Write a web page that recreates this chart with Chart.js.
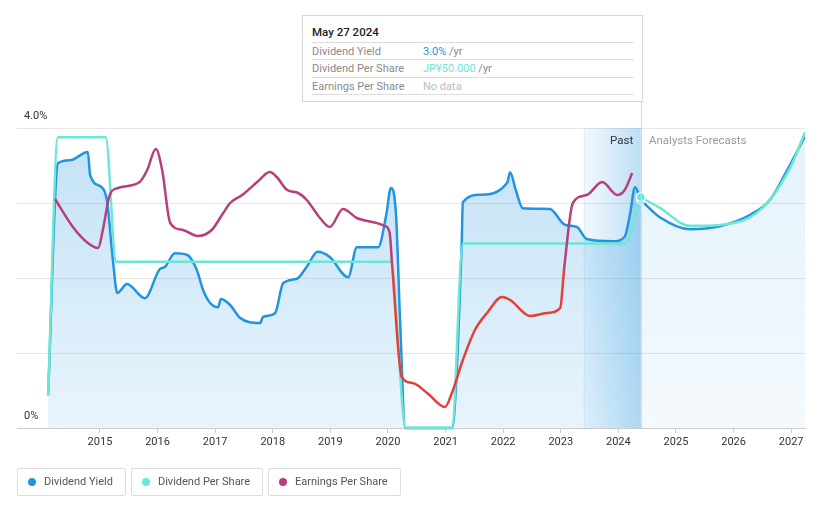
<!DOCTYPE html>
<html>
<head>
<meta charset="utf-8">
<script src="https://cdn.jsdelivr.net/npm/chart.js@4/dist/chart.umd.min.js"></script>
<style>
  body { margin: 0; background: #fff; font-family: Roboto, sans-serif; }
  #wrap { position: relative; width: 821px; height: 508px; }
  #chart { position: absolute; left: 0; top: 0; }
  .tip { position: absolute; left: 302px; top: 15px; width: 322px; height: 85px; padding: 0 8px 0 9px;
         background: #fff; border: 1px solid #d6d6d6; font-size: 11px; color: #8a8a8a; }
  .tip .title { height: 26px; line-height: 33px; color: #222; font-weight: 500; font-size: 11.5px; border-bottom: 1px solid #ddd; }
  .tip .row { height: 16.3px; line-height: 17px; border-bottom: 1px solid #ddd; display: flex; }
  .tip .row span.l { width: 111px; }
  .lbl { position: absolute; top: 133px; font-size: 11.5px; }
  .legend { position: absolute; top: 468px; left: 17px; display: flex; gap: 5px; }
  .legend div { border: 1px solid #ddd; border-radius: 2px; height: 26px; line-height: 26px; padding: 0 12px 0 26px;
                font-size: 11px; color: #555; position: relative; }
  .legend i { position: absolute; left: 10px; top: 9px; width: 8px; height: 8px; border-radius: 50%; }
</style>
</head>
<body>
<div id="wrap">
  <canvas id="chart" width="821" height="508"></canvas>
  <div class="tip">
    <div class="title">May 27 2024</div>
    <div class="row"><span class="l">Dividend Yield</span><span><span style="color:#2394df">3.0%</span> /yr</span></div>
    <div class="row"><span class="l">Dividend Per Share</span><span><span style="color:#6ee6d4">JP¥50.000</span> /yr</span></div>
    <div class="row"><span class="l">Earnings Per Share</span><span style="color:#bbb">No data</span></div>
  </div>
  <div class="lbl" style="left:610px;color:#333">Past</div>
  <div class="lbl" style="left:649px;color:#999">Analysts Forecasts</div>
  <div class="legend">
    <div><i style="background:#2394df"></i>Dividend Yield</div>
    <div><i style="background:#6ee6d4"></i>Dividend Per Share</div>
    <div><i style="background:#b4417b"></i>Earnings Per Share</div>
  </div>
</div>
<script>
// valeurs (années décimales)
const yearTicks = [2015, 2016, 2017, 2018, 2019, 2020, 2021, 2022, 2023, 2024, 2025, 2026, 2027];

const yieldYears = [2014.10, 2014.27, 2014.48, 2014.79, 2014.83, 2015.03, 2015.12, 2015.23, 2015.30, 2015.47,
  2015.78, 2016.04, 2016.13, 2016.30, 2016.51, 2016.68, 2016.79, 2016.91, 2017.05, 2017.10, 2017.26, 2017.43,
  2017.60, 2017.78, 2017.83, 2018.04, 2018.18, 2018.42, 2018.59, 2018.78, 2018.99, 2019.31, 2019.46, 2019.83,
  2019.97, 2020.05, 2020.14, 2020.21, 2020.30, 2021.11, 2021.28, 2021.30, 2021.60, 2022.07, 2022.12, 2022.22,
  2022.34, 2022.81, 2023.07, 2023.28, 2023.45, 2023.91, 2024.11, 2024.20, 2024.29, 2024.39];
const yieldValues = [0.44, 3.53, 3.57, 3.68, 3.37, 3.21, 3.04, 2.20, 1.80, 1.92,
  1.73, 2.12, 2.15, 2.33, 2.31, 2.11, 1.84, 1.67, 1.61, 1.72, 1.64, 1.47,
  1.41, 1.40, 1.48, 1.53, 1.93, 1.99, 2.15, 2.35, 2.28, 2.01, 2.41, 2.41,
  2.84, 3.20, 2.84, 1.44, 0, 0, 2.45, 3.01, 3.11, 3.27, 3.41, 3.17,
  2.93, 2.92, 2.71, 2.68, 2.52, 2.49, 2.55, 2.84, 3.21, 3.04];

const yieldFcYears = [2024.39, 2024.72, 2025.24, 2025.76, 2026.28, 2026.63, 2026.98, 2027.24];
const yieldFcValues = [3.04, 2.81, 2.65, 2.69, 2.84, 3.04, 3.51, 3.89];

// dividende par action, JP¥
const dpsYears = [2014.10, 2014.27, 2015.10, 2015.28, 2020.05, 2020.31, 2021.11, 2021.30, 2024.11, 2024.39];
const dpsValues = [7, 63, 63, 36, 36, 0, 0, 40, 40, 50];

const dpsFcYears = [2024.39, 2024.72, 2025.24, 2025.76, 2026.46, 2026.98, 2027.24];
const dpsFcValues = [50, 47.7, 43.8, 44.0, 47.2, 56.3, 64.1];

// bénéfice par action, JP¥
const epsYears = [2014.22, 2014.53, 2014.79, 2014.97, 2015.05, 2015.17, 2015.31, 2015.69, 2015.82, 2015.97,
  2016.08, 2016.22, 2016.44, 2016.70, 2016.94, 2017.14, 2017.26, 2017.47, 2017.73, 2017.95, 2018.07, 2018.25,
  2018.44, 2018.59, 2018.82, 2018.99, 2019.22, 2019.46, 2019.57, 2019.95, 2020.03, 2020.07, 2020.24, 2020.43,
  2020.68, 2020.99, 2021.11, 2021.30, 2021.51, 2021.72, 2021.98, 2022.12, 2022.47, 2022.76, 2022.99, 2023.06,
  2023.21, 2023.45, 2023.72, 2023.98, 2024.11, 2024.24];
const epsValues = [229, 201, 185, 180, 198, 233, 240, 246, 258, 279,
  258, 205, 198, 192, 198, 215, 225, 233, 246, 256, 251, 238,
  235, 228, 210, 201, 219, 210, 208, 202, 195, 165, 51, 45,
  35, 21, 35, 68, 98, 115, 131, 128, 112, 115, 120, 160,
  225, 233, 246, 233, 238, 255];

const epsLow = 166;
const pastStart = 2023.40, pastEnd = 2024.39;

const pts = (xs, ys) => xs.map((x, i) => ({ x: x, y: ys[i] }));

function fillGrad(a0, a1) {
    return (c) => {
        const area = c.chart.chartArea;
        if (!area) return 'rgba(35,148,223,' + a0 + ')';
        const g = c.chart.ctx.createLinearGradient(0, area.top, 0, area.bottom);
        g.addColorStop(0, 'rgba(35,148,223,' + a0 + ')');
        g.addColorStop(1, 'rgba(35,148,223,' + a1 + ')');
        return g;
    };
}

// bande "Past" + ligne verticale du survol
const pastBand = {
    id: 'pastBand',
    beforeDatasetsDraw(chart) {
        const { ctx, chartArea, scales } = chart;
        const x0 = scales.x.getPixelForValue(pastStart);
        const x1 = scales.x.getPixelForValue(pastEnd);
        const g = ctx.createLinearGradient(x0, 0, x1, 0);
        g.addColorStop(0, 'rgba(35,148,223,0.06)');
        g.addColorStop(1, 'rgba(35,148,223,0.30)');
        ctx.save();
        ctx.fillStyle = g;
        ctx.fillRect(x0, chartArea.top, x1 - x0, chartArea.bottom - chartArea.top);
        ctx.fillStyle = 'rgba(35,148,223,0.10)';
        ctx.fillRect(x0, chartArea.top, 1, chartArea.bottom - chartArea.top);
        ctx.restore();
    },
    afterDatasetsDraw(chart) {
        const { ctx, chartArea, scales } = chart;
        const x1 = Math.round(scales.x.getPixelForValue(pastEnd)) + 0.5;
        ctx.save();
        ctx.strokeStyle = '#cfdbe6';
        ctx.lineWidth = 1;
        ctx.beginPath();
        ctx.moveTo(x1, 102);
        ctx.lineTo(x1, chartArea.bottom);
        ctx.stroke();
        ctx.restore();
    }
};

new Chart(document.getElementById('chart'), {
    type: 'line',
    data: {
        datasets: [
            {
                label: 'Earnings Per Share',
                data: pts(epsYears, epsValues),
                yAxisID: 'yEps',
                borderColor: '#b4417b',
                borderWidth: 2.5,
                pointRadius: 0,
                cubicInterpolationMode: 'monotone',
                segment: {
                    borderColor: (c) => (c.p0.parsed.y < epsLow && c.p1.parsed.y < epsLow) ? '#e3403a' : undefined
                },
                order: 1
            },
            {
                label: 'Dividend Per Share (forecast)',
                data: pts(dpsFcYears, dpsFcValues),
                yAxisID: 'yDps',
                borderColor: '#6ee6d4',
                borderWidth: 2.5,
                cubicInterpolationMode: 'monotone',
                pointRadius: (c) => c.dataIndex === 0 ? 4.5 : 0,
                pointBackgroundColor: '#6ee6d4',
                pointBorderColor: '#fff',
                pointBorderWidth: 1.5,
                order: 2
            },
            {
                label: 'Dividend Yield (forecast)',
                data: pts(yieldFcYears, yieldFcValues),
                yAxisID: 'y',
                borderColor: '#2394df',
                borderWidth: 2.5,
                cubicInterpolationMode: 'monotone',
                fill: 'origin',
                backgroundColor: fillGrad(0.12, 0.05),
                pointRadius: (c) => c.dataIndex === 0 ? 4 : 0,
                pointBackgroundColor: '#2394df',
                pointBorderColor: '#fff',
                pointBorderWidth: 1.5,
                order: 3
            },
            {
                label: 'Dividend Per Share',
                data: pts(dpsYears, dpsValues),
                yAxisID: 'yDps',
                borderColor: '#6ee6d4',
                borderWidth: 2.5,
                pointRadius: 0,
                cubicInterpolationMode: 'monotone',
                clip: 3,
                order: 4
            },
            {
                label: 'Dividend Yield',
                data: pts(yieldYears, yieldValues),
                yAxisID: 'y',
                borderColor: '#2394df',
                borderWidth: 2.5,
                pointRadius: 0,
                cubicInterpolationMode: 'monotone',
                fill: 'origin',
                backgroundColor: fillGrad(0.28, 0.10),
                clip: 3,
                order: 5
            }
        ]
    },
    options: {
        responsive: false,
        animation: false,
        events: [],
        layout: { padding: { left: 17, right: 16, top: 128, bottom: 50 } },
        plugins: { legend: { display: false }, tooltip: { enabled: false } },
        scales: {
            x: {
                type: 'linear',
                min: 2013.56,
                max: 2027.24,
                afterBuildTicks: (s) => { s.ticks = yearTicks.map(v => ({ value: v })); },
                afterFit: (s) => { s.height = 30; },
                border: { color: '#cccccc' },
                grid: { drawOnChartArea: false, tickLength: 5, color: '#cccccc' },
                ticks: {
                    padding: 3,
                    maxRotation: 0,
                    autoSkip: false,
                    color: '#333',
                    font: { family: 'Roboto', size: 11 },
                    callback: (v) => String(v)
                }
            },
            y: {
                min: 0,
                max: 4,
                afterFit: (s) => { s.width = 0; },
                border: { display: false },
                grid: { color: '#e6e6e6', drawTicks: false },
                ticks: {
                    stepSize: 1,
                    mirror: true,
                    padding: 7,
                    labelOffset: -12,
                    color: '#333',
                    font: { family: 'Roboto', size: 11 },
                    callback: (v) => v === 4 ? '4.0%' : (v === 0 ? '0%' : '')
                }
            },
            yDps: { display: false, min: 0, max: 65 },
            yEps: { display: false, min: 0, max: 300 }
        }
    },
    plugins: [pastBand]
});
</script>
</body>
</html>
